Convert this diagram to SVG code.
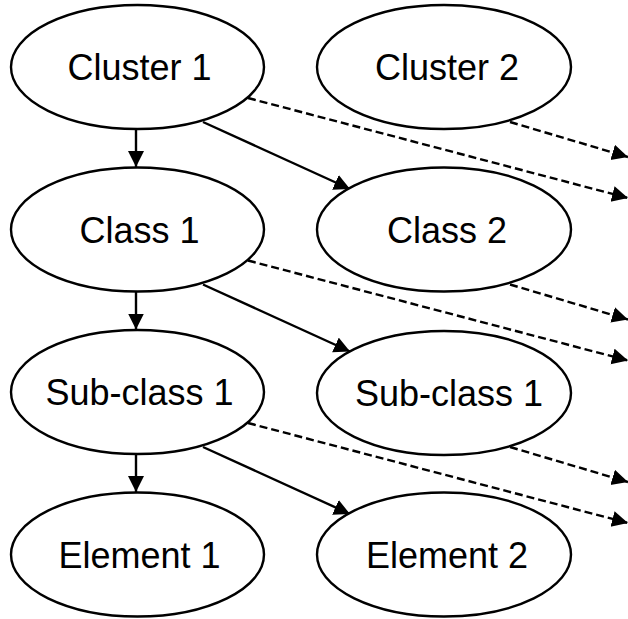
<svg xmlns="http://www.w3.org/2000/svg" width="628" height="619" viewBox="0 0 628 619">
  <style>
    .node ellipse { fill: #ffffff; stroke: #000000; stroke-width: 2.4; }
    .node text { font-family: "Liberation Sans", Arial, sans-serif; font-size: 36px; fill: #000000; text-anchor: middle; }
    .edge { fill: none; stroke: #000000; stroke-width: 2.4; }
    .solid { marker-end: url(#arrow); }
    .dashed { stroke-dasharray: 8 4; marker-end: url(#arrow); }
  </style>
  <defs>
    <marker id="arrow" markerUnits="userSpaceOnUse" markerWidth="18" markerHeight="18" refX="16" refY="8" orient="auto">
      <path d="M0,0 L16,8 L0,16 Z" fill="#000000"/>
    </marker>
  </defs>
  <rect width="628" height="619" fill="#ffffff"/>

  <!-- connectors -->
  <g id="connectors">
    <!-- cluster row -->
    <line class="edge solid" x1="136" y1="129" x2="136" y2="167"/>
    <line class="edge solid" x1="203" y1="122" x2="350" y2="189"/>
    <line class="edge dashed" x1="248" y1="98" x2="628" y2="198"/>
    <line class="edge dashed" x1="510" y1="122" x2="628" y2="157"/>
    <!-- class row -->
    <line class="edge solid" x1="136" y1="291.5" x2="136" y2="329.5"/>
    <line class="edge solid" x1="203" y1="284.5" x2="350" y2="351.5"/>
    <line class="edge dashed" x1="248" y1="260.5" x2="628" y2="360.5"/>
    <line class="edge dashed" x1="510" y1="284.5" x2="628" y2="319.5"/>
    <!-- sub-class row -->
    <line class="edge solid" x1="136" y1="454" x2="136" y2="492"/>
    <line class="edge solid" x1="203" y1="447" x2="350" y2="514"/>
    <line class="edge dashed" x1="248" y1="423" x2="628" y2="523"/>
    <line class="edge dashed" x1="510" y1="447" x2="628" y2="482"/>
  </g>

  <!-- nodes -->
  <g id="cluster1" class="node">
    <ellipse cx="137.5" cy="67" rx="126.5" ry="62"/>
    <text x="139.5" y="80">Cluster 1</text>
  </g>
  <g id="cluster2" class="node">
    <ellipse cx="444" cy="67" rx="127" ry="62"/>
    <text x="447" y="80">Cluster 2</text>
  </g>
  <g id="class1" class="node">
    <ellipse cx="137.5" cy="229.5" rx="126.5" ry="62"/>
    <text x="139.5" y="242.5">Class 1</text>
  </g>
  <g id="class2" class="node">
    <ellipse cx="444" cy="229.5" rx="127" ry="62"/>
    <text x="447" y="242.5">Class 2</text>
  </g>
  <g id="subclass1-left" class="node">
    <ellipse cx="137.5" cy="392" rx="126.5" ry="62"/>
    <text x="139.5" y="405">Sub-class 1</text>
  </g>
  <g id="subclass1-right" class="node">
    <ellipse cx="444" cy="393" rx="127" ry="62"/>
    <text x="449" y="406">Sub-class 1</text>
  </g>
  <g id="element1" class="node">
    <ellipse cx="137.5" cy="554.5" rx="126.5" ry="62"/>
    <text x="139.5" y="567.5">Element 1</text>
  </g>
  <g id="element2" class="node">
    <ellipse cx="444" cy="554.5" rx="127" ry="62"/>
    <text x="447" y="567.5">Element 2</text>
  </g>
</svg>
